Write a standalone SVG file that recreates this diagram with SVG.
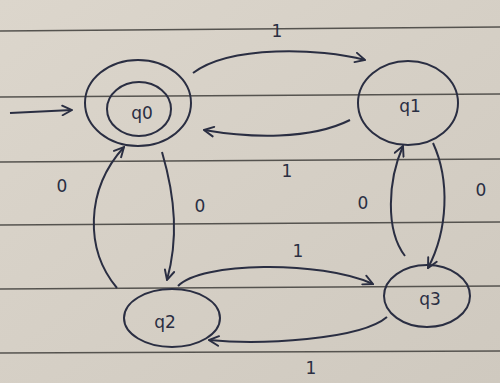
<svg xmlns="http://www.w3.org/2000/svg" width="500" height="383" viewBox="0 0 500 383">
<defs>
<linearGradient id="paper" x1="0" y1="0" x2="1" y2="1">
<stop offset="0" stop-color="#dcd6cc"/>
<stop offset="1" stop-color="#cfc9bf"/>
</linearGradient>
<marker id="ah" viewBox="0 0 10 10" refX="9" refY="5" markerWidth="12" markerHeight="12" markerUnits="userSpaceOnUse" orient="auto">
<path d="M1,1 L9,5 L1,9" fill="none" stroke="#2a2e42" stroke-width="1.6" stroke-linecap="round"/>
</marker>
<style>
.rule{stroke:#55534f;stroke-width:1.3;fill:none}
.st{fill:none;stroke:#2a2e42;stroke-width:2}
.ed{fill:none;stroke:#2a2e42;stroke-width:2;marker-end:url(#ah)}
.lb{font-family:"DejaVu Sans",sans-serif;font-size:17px;fill:#2a2e42;text-anchor:middle}
.nm{font-family:"DejaVu Sans",sans-serif;font-size:17px;fill:#2a2e42;text-anchor:middle}
</style>
</defs>
<rect width="500" height="383" fill="url(#paper)"/>
<g id="rules">
<line class="rule" x1="0" y1="31" x2="500" y2="27"/>
<line class="rule" x1="0" y1="97" x2="500" y2="94"/>
<line class="rule" x1="0" y1="162" x2="500" y2="159"/>
<line class="rule" x1="0" y1="225" x2="500" y2="222"/>
<line class="rule" x1="0" y1="289" x2="500" y2="286"/>
<line class="rule" x1="0" y1="353" x2="500" y2="351"/>
</g>
<g id="connectors">
<path class="ed" d="M10,113 L72,110"/>
<path class="ed" d="M193,73 C230,45 320,48 365,60"/>
<path class="ed" d="M350,120 C310,140 250,138 204,130"/>
<path class="ed" d="M162,152 C176,200 178,240 167,280"/>
<path class="ed" d="M117,288 C85,250 85,190 124,147"/>
<path class="ed" d="M178,286 C200,262 320,260 373,284"/>
<path class="ed" d="M387,317 C360,340 260,345 209,340"/>
<path class="ed" d="M433,143 C450,180 448,230 428,268"/>
<path class="ed" d="M405,256 C385,230 388,180 403,146"/>
</g>
<g id="q0">
<ellipse class="st" cx="138" cy="103" rx="53" ry="43"/>
<ellipse class="st" cx="139" cy="109" rx="32" ry="27"/>
<text class="nm" x="142" y="119">q0</text>
</g>
<g id="q1">
<ellipse class="st" cx="408" cy="103" rx="50" ry="42"/>
<text class="nm" x="410" y="112">q1</text>
</g>
<g id="q2">
<ellipse class="st" cx="172" cy="318" rx="48" ry="29"/>
<text class="nm" x="165" y="328">q2</text>
</g>
<g id="q3">
<ellipse class="st" cx="427" cy="296" rx="43" ry="31"/>
<text class="nm" x="430" y="305">q3</text>
</g>
<g id="labels">
<text class="lb" x="277" y="37">1</text>
<text class="lb" x="287" y="177">1</text>
<text class="lb" x="62" y="192">0</text>
<text class="lb" x="200" y="212">0</text>
<text class="lb" x="298" y="257">1</text>
<text class="lb" x="311" y="374">1</text>
<text class="lb" x="363" y="209">0</text>
<text class="lb" x="481" y="196">0</text>
</g>
</svg>
